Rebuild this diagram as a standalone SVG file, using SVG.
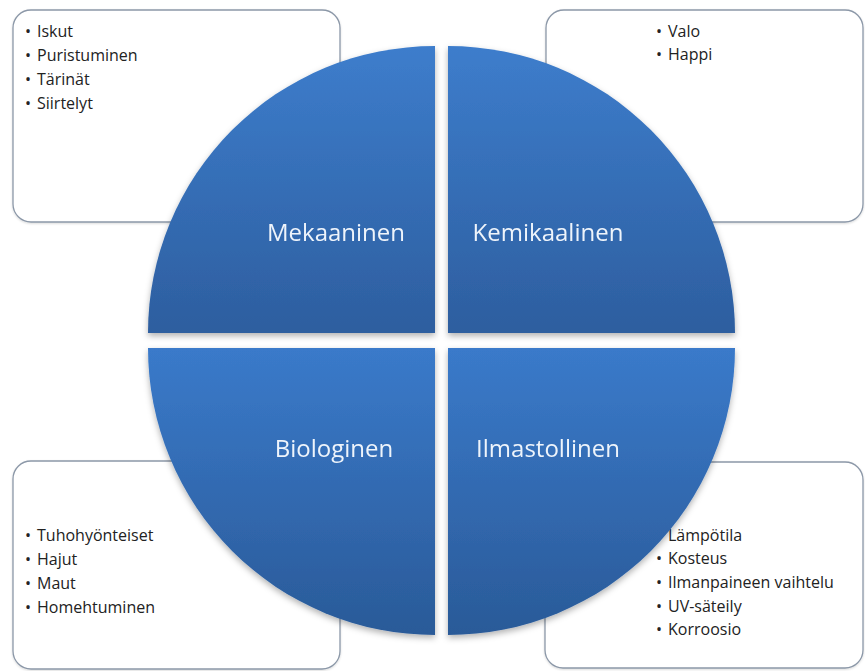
<svg xmlns="http://www.w3.org/2000/svg" width="865" height="671" viewBox="0 0 865 671">
<defs>
<linearGradient id="gTop" x1="0" y1="0" x2="0" y2="1">
<stop offset="0" stop-color="#3d7dcc"/>
<stop offset="1" stop-color="#2d5e9f"/>
</linearGradient>
<linearGradient id="gBot" x1="0" y1="0" x2="0" y2="1">
<stop offset="0" stop-color="#3a7aca"/>
<stop offset="1" stop-color="#2a5a98"/>
</linearGradient>
<filter id="sh" x="-10%" y="-10%" width="120%" height="125%">
<feDropShadow dx="0" dy="3" stdDeviation="3" flood-color="#000" flood-opacity="0.3"/>
</filter>
<filter id="bsh" x="-5%" y="-5%" width="110%" height="110%">
<feDropShadow dx="0" dy="1" stdDeviation="1" flood-color="#000" flood-opacity="0.15"/>
</filter>
</defs>
<style>
.box{fill:#ffffff;stroke:#8c98a8;stroke-width:1.3}
.item{font-family:"Open Sans","Liberation Sans",sans-serif;font-size:16px;fill:#222222}
.lab{font-family:"Open Sans","Liberation Sans",sans-serif;font-size:24px;fill:#eef4fb;text-anchor:middle}
</style>
<rect width="865" height="671" fill="#ffffff"/>

<g id="box-mekaaninen">
<rect class="box" x="13" y="10" width="327" height="212" rx="18" filter="url(#bsh)"/>
<text class="item"><tspan x="25" y="37">•</tspan><tspan x="37">Iskut</tspan></text>
<text class="item"><tspan x="25" y="61">•</tspan><tspan x="37">Puristuminen</tspan></text>
<text class="item"><tspan x="25" y="85">•</tspan><tspan x="37">Tärinät</tspan></text>
<text class="item"><tspan x="25" y="109">•</tspan><tspan x="37">Siirtelyt</tspan></text>
</g>

<g id="box-kemikaalinen">
<rect class="box" x="546" y="10" width="317" height="212" rx="18" filter="url(#bsh)"/>
<text class="item"><tspan x="656" y="37">•</tspan><tspan x="668">Valo</tspan></text>
<text class="item"><tspan x="656" y="60">•</tspan><tspan x="668">Happi</tspan></text>
</g>

<g id="box-biologinen">
<rect class="box" x="13" y="461" width="327" height="208" rx="18" filter="url(#bsh)"/>
<text class="item"><tspan x="25" y="541">•</tspan><tspan x="37">Tuhohyönteiset</tspan></text>
<text class="item"><tspan x="25" y="565">•</tspan><tspan x="37">Hajut</tspan></text>
<text class="item"><tspan x="25" y="589">•</tspan><tspan x="37">Maut</tspan></text>
<text class="item"><tspan x="25" y="613">•</tspan><tspan x="37">Homehtuminen</tspan></text>
</g>

<g id="box-ilmastollinen">
<rect class="box" x="545" y="462" width="318" height="206" rx="18" filter="url(#bsh)"/>
<text class="item"><tspan x="656" y="541">•</tspan><tspan x="668">Lämpötila</tspan></text>
<text class="item"><tspan x="656" y="564">•</tspan><tspan x="668">Kosteus</tspan></text>
<text class="item"><tspan x="656" y="588">•</tspan><tspan x="668">Ilmanpaineen vaihtelu</tspan></text>
<text class="item"><tspan x="656" y="612">•</tspan><tspan x="668">UV-säteily</tspan></text>
<text class="item"><tspan x="656" y="635">•</tspan><tspan x="668">Korroosio</tspan></text>
</g>

<g id="q-mekaaninen" filter="url(#sh)">
<path d="M435,333 L148,333 A287,287 0 0 1 435,46 Z" fill="url(#gTop)"/>
<text class="lab" x="336" y="241">Mekaaninen</text>
</g>
<g id="q-kemikaalinen" filter="url(#sh)">
<path d="M448,333 L448,46 A287,287 0 0 1 735,333 Z" fill="url(#gTop)"/>
<text class="lab" x="548" y="241">Kemikaalinen</text>
</g>
<g id="q-biologinen" filter="url(#sh)">
<path d="M435,348 L435,635 A287,287 0 0 1 148,348 Z" fill="url(#gBot)"/>
<text class="lab" x="334" y="457">Biologinen</text>
</g>
<g id="q-ilmastollinen" filter="url(#sh)">
<path d="M448,348 L735,348 A287,287 0 0 1 448,635 Z" fill="url(#gBot)"/>
<text class="lab" x="548" y="457">Ilmastollinen</text>
</g>
</svg>
